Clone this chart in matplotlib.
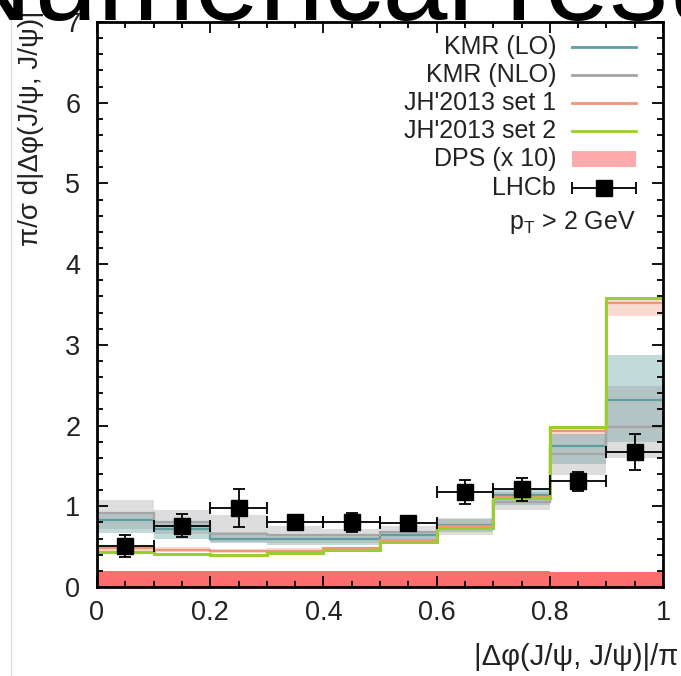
import matplotlib
matplotlib.use("Agg")
import matplotlib.pyplot as plt
import numpy as np

plt.rcParams['font.family'] = ['Liberation Sans', 'DejaVu Sans']

# ---- data ----
edges = [0.0, 0.1, 0.2, 0.3, 0.4, 0.5, 0.6, 0.7, 0.8, 0.9, 1.0]
kmr_lo = [0.83, 0.72, 0.60, 0.60, 0.60, 0.64, 0.77, 1.14, 1.75, 2.32]
kmr_lo_low = [0.67, 0.60, 0.54, 0.52, 0.52, 0.56, 0.68, 1.02, 1.53, 1.80]
kmr_lo_high = [0.90, 0.80, 0.68, 0.66, 0.66, 0.70, 0.84, 1.22, 1.90, 2.87]
kmr_nlo = [0.92, 0.80, 0.66, 0.64, 0.64, 0.68, 0.74, 1.05, 1.65, 1.98]
kmr_nlo_low = [0.72, 0.66, 0.56, 0.54, 0.54, 0.58, 0.64, 0.95, 1.39, 1.60]
kmr_nlo_high = [1.08, 0.96, 0.89, 0.76, 0.72, 0.76, 0.86, 1.18, 1.90, 2.49]
jh1 = [0.48, 0.46, 0.45, 0.45, 0.48, 0.58, 0.75, 1.12, 1.93, 3.52]
jh1_low = [0.45, 0.43, 0.42, 0.43, 0.46, 0.56, 0.73, 1.10, 1.88, 3.36]
jh1_high = [0.51, 0.49, 0.47, 0.48, 0.50, 0.60, 0.77, 1.14, 1.96, 3.56]
jh2 = [0.43, 0.41, 0.40, 0.42, 0.46, 0.56, 0.73, 1.10, 1.98, 3.58]
dps = [0.20, 0.20, 0.20, 0.20, 0.20, 0.20, 0.20, 0.20, 0.19, 0.19]
lhcb_x = [0.05, 0.15, 0.25, 0.35, 0.45, 0.55, 0.65, 0.75, 0.85, 0.95]
lhcb_y = [0.51, 0.76, 0.98, 0.81, 0.80, 0.79, 1.18, 1.21, 1.31, 1.67]
lhcb_err = [0.14, 0.14, 0.24, 0.07, 0.12, 0.08, 0.15, 0.14, 0.12, 0.22]
lhcb_xerr = [0.05] * 10

W, H = 681, 676
fig = plt.figure(figsize=(W / 100, H / 100), dpi=100)
ax = fig.add_axes([97 / W, (H - 587) / H, 566 / W, 565 / H])

teal = '#5f9ea0'
gray = '#a6a6a6'
salmon = '#f0957a'
green = '#9acd32'

ax.stairs(kmr_lo_high, edges, baseline=kmr_lo_low, fill=True, color=teal, alpha=0.38, lw=0)
ax.stairs(kmr_nlo_high, edges, baseline=kmr_nlo_low, fill=True, color='#999999', alpha=0.33, lw=0)
ax.stairs(jh1_high, edges, baseline=jh1_low, fill=True, color=salmon, alpha=0.35, lw=0)
ax.stairs(kmr_lo, edges, color=teal, lw=1.6, baseline=None)
ax.stairs(kmr_nlo, edges, color=gray, lw=1.6, baseline=None)
ax.stairs(jh1, edges, color=salmon, lw=1.6, baseline=None)
ax.stairs(jh2, edges, color=green, lw=2.2, baseline=None)
ax.stairs(dps, edges, baseline=0, fill=True, color='#ff6e6e', lw=0)
ax.errorbar(lhcb_x, lhcb_y, yerr=lhcb_err, xerr=lhcb_xerr, fmt='s', color='black',
            ms=12, elinewidth=1.3, capsize=4, capthick=1.3, zorder=5)

ax.set_xlim(0, 1)
ax.set_ylim(0, 7)
ax.set_xticks([0, 0.2, 0.4, 0.6, 0.8, 1.0])
ax.set_xticklabels(['0', '0.2', '0.4', '0.6', '0.8', '1'])
ax.set_xticks(np.arange(0, 1.0001, 0.05), minor=True)
ax.set_yticks(range(0, 8))
ax.set_yticks(np.arange(0, 7.001, 0.2), minor=True)
ax.tick_params(which='both', direction='in', top=True, right=True, labelsize=19.5,
               color='black', width=1.3, labelcolor='#222222')
ax.tick_params(which='major', length=8, pad=9)
ax.tick_params(which='minor', length=4)
ax.tick_params(axis='y', pad=12)
for s in ax.spines.values():
    s.set_linewidth(2)

# legend (manual)
def ax_xy(px, py):
    return (px - 97) / 566, (587 - py) / 565

rows = [('KMR (LO)', 47), ('KMR (NLO)', 75), ("JH'2013 set 1", 103),
        ("JH'2013 set 2", 131), ('DPS (x 10)', 159), ('LHCb', 188)]
fs = 18
for label, py in rows:
    tx, ty = ax_xy(556, py)
    ax.text(tx, ty, label, transform=ax.transAxes, ha='right', va='center', fontsize=fs,
            color='#222222')
x1, _ = ax_xy(572, 0)
x2, _ = ax_xy(636, 0)
xm, _ = ax_xy(604, 0)
for (label, py), c in zip(rows[:4], [teal, gray, salmon, green]):
    _, yy = ax_xy(0, py)
    ax.plot([x1, x2], [yy, yy], color=c, lw=2, transform=ax.transAxes)
_, yd = ax_xy(0, 159)
ax.add_patch(plt.Rectangle((x1, yd - 7.5 / 565), x2 - x1, 15 / 565, transform=ax.transAxes,
                           color='#ffaaaa', lw=0))
_, yl = ax_xy(0, 188)
ax.errorbar([xm], [yl], xerr=[(x2 - x1) / 2], fmt='s', color='black', ms=12,
            elinewidth=1.3, capsize=4, capthick=1.3, transform=ax.transAxes)
tx, ty = ax_xy(636, 222)
ax.text(tx, ty, r'p$_\mathregular{T}$ > 2 GeV', transform=ax.transAxes, ha='right', va='center',
        fontsize=fs, color='#222222')

# axis labels
fig.text(678 / W, 1 - 657 / H, '|Δφ(J/ψ, J/ψ)|/π', ha='right', va='center', fontsize=21,
         color='#222222')
fig.text(31 / W, 1 - 246 / H, 'π/σ d|Δφ(J/ψ, J/ψ)|', rotation=90, ha='center', va='bottom',
         fontsize=20, color='#222222')

# slide title (cut off at top)
fig.text(-52 / W, 1 - 20 / H, 'Numerical results', ha='left', va='baseline', fontsize=84)
fig.add_artist(plt.Line2D([11 / W, 11 / W], [0, 1], color='#dddddd', lw=1, transform=fig.transFigure))

fig.savefig('out.png', dpi=100)
